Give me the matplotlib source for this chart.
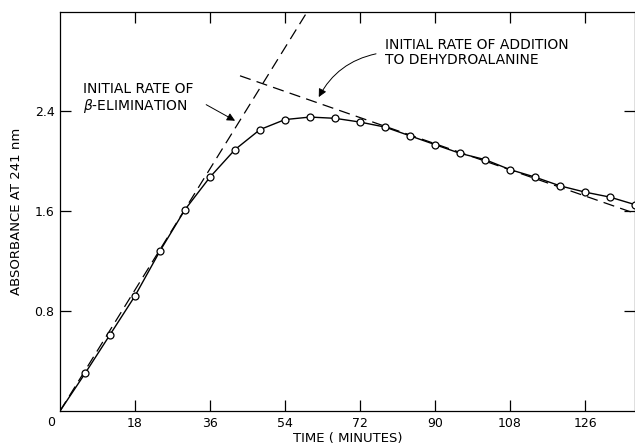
import matplotlib
matplotlib.use("Agg")
import matplotlib.pyplot as plt

plt.rcParams['font.family'] = ['DejaVu Sans']

# absorbance readings every 6 minutes
time_min = [0, 6, 12, 18, 24, 30, 36, 42, 48, 54, 60, 66, 72, 78, 84, 90,
            96, 102, 108, 114, 120, 126, 132, 138]
absorbance = [0.0, 0.30, 0.61, 0.92, 1.28, 1.61, 1.87, 2.09, 2.25, 2.33, 2.35,
              2.34, 2.31, 2.27, 2.20, 2.13, 2.06, 2.01, 1.93, 1.87, 1.80,
              1.75, 1.71, 1.65]

# tangent lines (end points)
elim_x = [0, 59.3]
elim_y = [0.0, 3.19]
add_x = [43.2, 138]
add_y = [2.68, 1.58]

xticks = [18, 36, 54, 72, 90, 108, 126]
yticks = [0.8, 1.6, 2.4]

fig = plt.figure(figsize=(6.35, 4.48), dpi=100)
ax = fig.add_axes([60 / 635, 37 / 448, 575 / 635, 399 / 448])

ax.plot(time_min, absorbance, color='black', lw=1.0)
ax.plot(time_min[1:], absorbance[1:], 'o', ms=5, mfc='white', mec='black',
        mew=0.9, zorder=3)
ax.plot(elim_x, elim_y, color='black', lw=0.9, dashes=(9, 5))
ax.plot(add_x, add_y, color='black', lw=0.9, dashes=(9, 5))

ax.set_xlim(0, 138)
ax.set_ylim(0, 3.19)
ax.set_xticks(xticks)
ax.set_yticks(yticks)
ax.set_xticklabels([str(t) for t in xticks], fontsize=9)
ax.set_yticklabels([f'{v:.1f}' for v in yticks], fontsize=9)
ax.tick_params(direction='in', length=8, width=0.9, top=True, right=True,
               pad=4)
for s in ax.spines.values():
    s.set_linewidth(0.9)

ax.text(-0.008, -0.012, '0', transform=ax.transAxes, ha='right', va='top',
        fontsize=9)

ax.set_xlabel('TIME ( MINUTES)', fontsize=9.5, labelpad=2)
ax.set_ylabel('ABSORBANCE AT 241 nm', fontsize=9.5, labelpad=8)

ax.text(5.5, 2.50, 'INITIAL RATE OF\n$\\beta$-ELIMINATION', fontsize=10,
        ha='left', va='center', linespacing=1.05)
ax.annotate('', xy=(42.6, 2.31), xytext=(34.5, 2.46),
            arrowprops=dict(arrowstyle='-|>', color='black', lw=0.7,
                            mutation_scale=12))

ax.text(78, 2.865, 'INITIAL RATE OF ADDITION\nTO DEHYDROALANINE', fontsize=10,
        ha='left', va='center', linespacing=1.05)
ax.annotate('', xy=(61.8, 2.49), xytext=(76.5, 2.86),
            arrowprops=dict(arrowstyle='-|>', color='black', lw=0.7,
                            mutation_scale=12,
                            connectionstyle='arc3,rad=0.25'))

fig.savefig('out.png', dpi=100)
